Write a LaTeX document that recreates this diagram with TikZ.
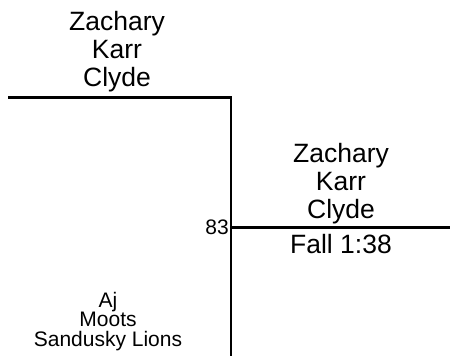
\documentclass[tikz,border=0pt]{standalone}
\usepackage{fontspec}
\setmainfont{Liberation Sans}
\usetikzlibrary{positioning}
\tikzset{
	bracket/.style={line width=2.5pt, line join=miter},
	entrant/.style={align=center, inner sep=0pt, font=\fontsize{26.5}{28}\selectfont},
	smallentrant/.style={align=center, inner sep=0pt, font=\fontsize{21}{19.5}\selectfont},
}

\begin{document}
\begin{tikzpicture}[x=1pt, y=-1pt]
		%%%%% START %%%%%
		\useasboundingbox (0, 0) rectangle (450, 356);
		
		\coordinate (topstart) at (8, 97.5);
		\coordinate (topcorner) at (231, 97.5);
		\coordinate (botend) at (231, 356);
		\coordinate (winjoin) at (231, 227.5);
		\coordinate (winend) at (450, 227.5);
		
		\draw[bracket] (topstart) -- (topcorner) -- (botend);
		\draw[bracket] (winjoin) -- (winend);
		
		\node[entrant] (topname) at (117, 51.2) {Zachary\\Karr\\Clyde};
		\node[smallentrant] (botname) at (108, 321.2) {Aj\\Moots\\Sandusky Lions};
		
		\node[entrant] (winname) at (341, 183.2) {Zachary\\Karr\\Clyde};
		\node[entrant, anchor=base] (result) at (341, 253) {Fall 1:38};
		\node[smallentrant, anchor=base east] (weight) at (229, 234) {83};
		
		%%%%% END %%%%%
	\end{tikzpicture}
\end{document}
